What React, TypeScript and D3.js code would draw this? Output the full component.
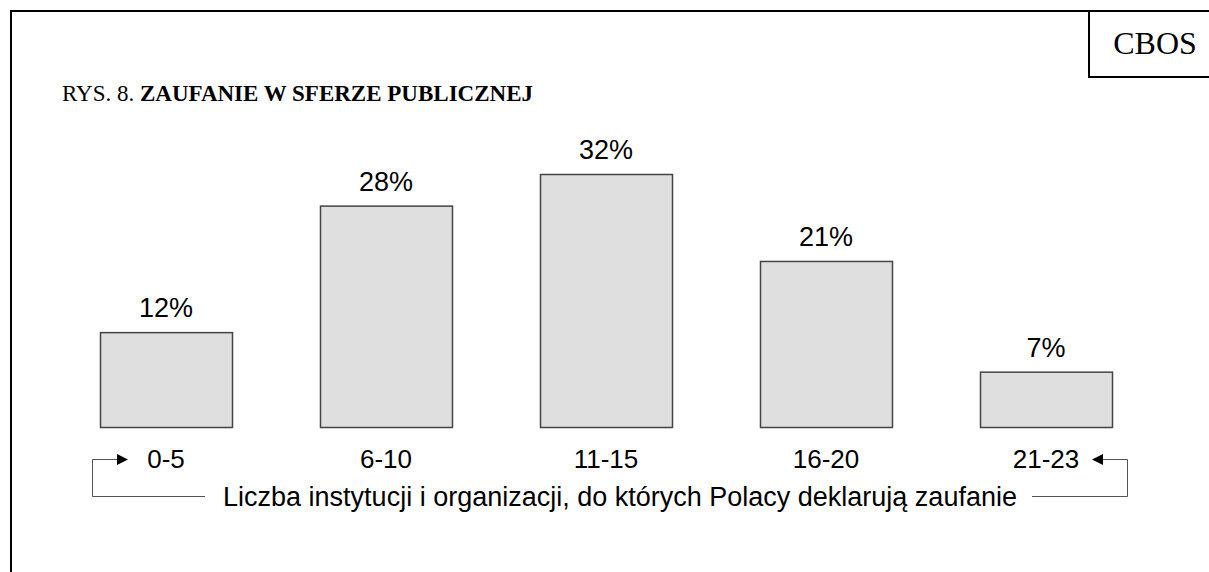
import React, { useRef, useEffect } from "react";
import * as d3 from "d3";

// ─── Data ───────────────────────────────────────────────────────────────
const categories = ["0-5", "6-10", "11-15", "16-20", "21-23"];
const shares = [12, 28, 32, 21, 7];
const valueLabels = ["12%", "28%", "32%", "21%", "7%"];
const titlePrefix = "RYS. 8. ";
const titleBold = "ZAUFANIE W SFERZE PUBLICZNEJ";
const caption = "Liczba instytucji i organizacji, do których Polacy deklarują zaufanie";
const brand = "CBOS";

const SANS = "Arial, 'Liberation Sans', sans-serif";
const SERIF = "'Times New Roman', 'Liberation Serif', serif";

const App = () => {
  const svgRef = useRef<SVGSVGElement>(null);

  useEffect(() => {
    const width = 1209;
    const height = 572;
    const baseY = 427;

    const svg = d3.select(svgRef.current).attr("width", width).attr("height", height);
    svg.selectAll("*").remove();

    // frame + brand box
    svg.append("path")
      .attr("d", `M11,${height + 5} V11 H${width + 5}`)
      .attr("fill", "none").attr("stroke", "#000").attr("stroke-width", 2);
    svg.append("path")
      .attr("d", `M1089,11 V77 H${width + 5}`)
      .attr("fill", "none").attr("stroke", "#000").attr("stroke-width", 2);
    svg.append("text")
      .attr("x", 1155).attr("y", 54)
      .attr("text-anchor", "middle")
      .style("font-family", SERIF).style("font-size", "32px")
      .text(brand);

    // title
    const title = svg.append("text")
      .attr("x", 62).attr("y", 101)
      .style("font-family", SERIF).style("font-size", "23px");
    title.append("tspan").text(titlePrefix);
    title.append("tspan").style("font-weight", "bold").text(titleBold);

    const data = categories.map((c, i) => ({ cat: c, value: shares[i], label: valueLabels[i] }));

    const x = d3.scaleBand<string>()
      .domain(categories)
      .range([56, 1156])
      .paddingInner(0.4)
      .paddingOuter(0.2);

    const y = d3.scaleLinear().domain([0, 32]).range([baseY, 174]);

    svg.append("g")
      .selectAll("rect")
      .data(data)
      .join("rect")
      .attr("x", (d) => x(d.cat)! + 0.5)
      .attr("y", (d) => y(d.value) + 0.5)
      .attr("width", x.bandwidth())
      .attr("height", (d) => y(0) - y(d.value))
      .attr("fill", "#dfdfdf")
      .attr("stroke", "#444")
      .attr("stroke-width", 1.5);

    svg.append("g")
      .selectAll("text")
      .data(data)
      .join("text")
      .attr("x", (d) => x(d.cat)! + x.bandwidth() / 2)
      .attr("y", (d) => y(d.value) - 15)
      .attr("text-anchor", "middle")
      .style("font-family", SANS).style("font-size", "27px")
      .text((d) => d.label);

    svg.append("g")
      .selectAll("text")
      .data(data)
      .join("text")
      .attr("x", (d) => x(d.cat)! + x.bandwidth() / 2)
      .attr("y", 468)
      .attr("text-anchor", "middle")
      .style("font-family", SANS).style("font-size", "26px")
      .text((d) => d.cat);

    // caption + bracket arrows
    svg.append("text")
      .attr("x", 620).attr("y", 506)
      .attr("text-anchor", "middle")
      .style("font-family", SANS).style("font-size", "27px")
      .text(caption);

    const g = svg.append("g").attr("fill", "none").attr("stroke", "#555").attr("stroke-width", 1);
    g.append("path").attr("d", "M205,496.5 H92.5 V459.5 H120");
    g.append("path").attr("d", "M1032,496.5 H1127.5 V459.5 H1100");
    svg.append("path").attr("d", "M128,459.5 L117,454 L117,465 Z").attr("fill", "#000");
    svg.append("path").attr("d", "M1092,459.5 L1103,454 L1103,465 Z").attr("fill", "#000");
  }, []);

  return (
    <svg ref={svgRef} style={{ position: "absolute", left: 0, top: 0, background: "#fff" }} />
  );
};

export default App;
